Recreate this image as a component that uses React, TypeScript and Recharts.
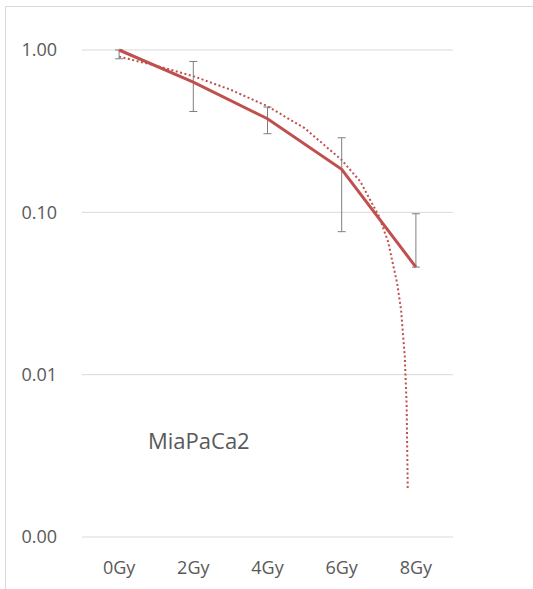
import React from 'react';
import { LineChart, Line, XAxis, YAxis, CartesianGrid, ErrorBar } from 'recharts';

// surviving fraction per dose
const doses = [0, 2, 4, 6, 8];
const survival = [1.0, 0.634, 0.377, 0.184, 0.046];
const errorLow = [0.117, 0.216, 0.072, 0.108, 0];
const errorHigh = [0, 0.216, 0.068, 0.104, 0.052];

// dotted trend line
const trendDose = [0, 1, 2, 3, 4, 5, 6, 6.5, 7, 7.25, 7.5, 7.6, 7.7, 7.75, 7.78];
const trendValue = [0.91, 0.8, 0.69, 0.57, 0.45, 0.33, 0.21, 0.155, 0.095, 0.066, 0.036, 0.025, 0.013, 0.0065, 0.002];

const xTicks = [0, 2, 4, 6, 8];
const yTicks = [0.001, 0.01, 0.1, 1];

const RED = '#c0504d';
const TEXT = '#595959';
const FONT = '"Open Sans", sans-serif';

export default function App() {
  const mainData = doses.map((gy, i) => ({
    gy,
    survival: survival[i],
    err: [errorLow[i], errorHigh[i]],
  }));
  const trendData = trendDose.map((gy, i) => ({ gy, trend: trendValue[i] }));

  return (
    <div style={{ position: 'absolute', left: 0, top: 0, width: 533, height: 589, background: '#fff', fontFamily: FONT }}>
      <div
        style={{
          position: 'absolute', left: 5, top: 6, width: 528, height: 583,
          borderTop: '1px solid #d9d9d9', borderLeft: '1px solid #d9d9d9', boxSizing: 'border-box',
        }}
      />
      <LineChart width={533} height={589} margin={{ top: 50, right: 80, bottom: 22, left: 10 }}>
        <CartesianGrid vertical={false} stroke="#d9d9d9" strokeWidth={1} />
        <XAxis
          type="number"
          dataKey="gy"
          domain={[-1, 9]}
          ticks={xTicks}
          tickFormatter={(v) => `${v}Gy`}
          axisLine={false}
          tickLine={false}
          tickSize={6}
          tickMargin={18}
          height={30}
          tick={{ fill: TEXT, fontSize: 18, fontFamily: FONT }}
          allowDuplicatedCategory={false}
        />
        <YAxis
          scale="log"
          domain={[0.001, 1]}
          ticks={yTicks}
          tickFormatter={(v) => Number(v).toFixed(2)}
          axisLine={false}
          tickLine={false}
          tickSize={6}
          tickMargin={19}
          width={72}
          tick={{ fill: TEXT, fontSize: 18, fontFamily: FONT }}
        />
        <Line
          data={trendData}
          dataKey="trend"
          type="linear"
          stroke={RED}
          strokeWidth={2}
          strokeDasharray="2 2.5"
          dot={false}
          activeDot={false}
          isAnimationActive={false}
        />
        <Line
          data={mainData}
          dataKey="survival"
          type="linear"
          stroke={RED}
          strokeWidth={3}
          dot={false}
          activeDot={false}
          isAnimationActive={false}
        >
          <ErrorBar dataKey="err" direction="y" width={4} stroke="#7f7f7f" strokeWidth={1} isAnimationActive={false} />
        </Line>
      </LineChart>
      <svg style={{ position: 'absolute', left: 0, top: 0 }} width={533} height={589} pointerEvents="none">
        <text x={148} y={449} fill={TEXT} fontSize={22} fontFamily={FONT}>MiaPaCa2</text>
      </svg>
    </div>
  );
}
